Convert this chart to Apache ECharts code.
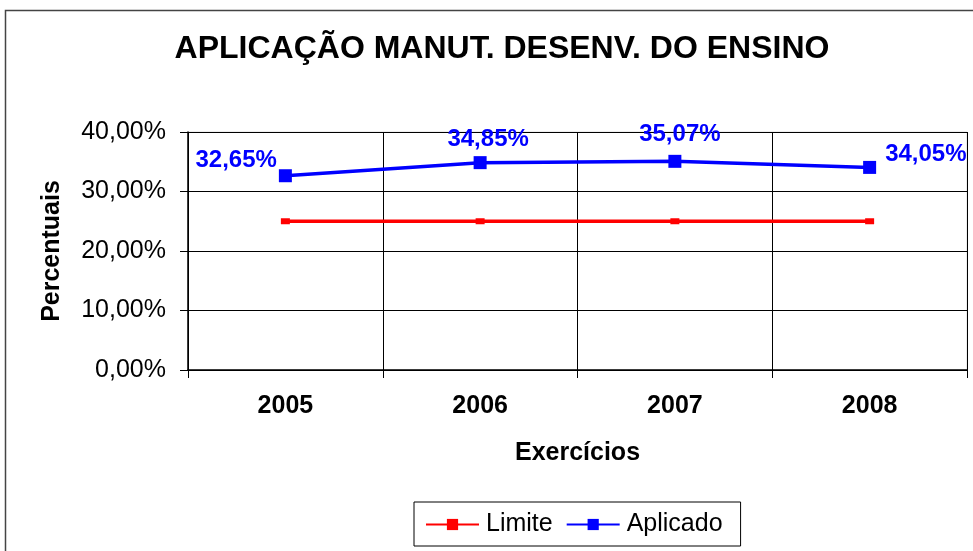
<!DOCTYPE html>
<html>
<head>
<meta charset="utf-8">
<script src="https://cdn.jsdelivr.net/npm/echarts@6/dist/echarts.min.js"></script>
<style>
  html, body { margin: 0; padding: 0; background: #fff; }
  #chart { width: 973px; height: 551px; }
</style>
</head>
<body>
<div id="chart"></div>
<script>
// dados
const exercicios = ['2005', '2006', '2007', '2008']
const limite = [25, 25, 25, 25]
const aplicado = [32.65, 34.85, 35.07, 34.05]

const fmt = (v) => v.toFixed(2).replace('.', ',') + '%'
// posição dos rótulos de cada ponto
const labelPos = ['left', 'top', 'top', 'right']
const labelOffset = [[3, -15], [8, 0], [5, -3], [4, -13]]

const chart = echarts.init(document.getElementById('chart'), null, { renderer: 'canvas' })
const font = 'Liberation Sans, Arial, sans-serif'

const option = {
  backgroundColor: '#fff',
  animation: false,
  title: {
    text: 'APLICAÇÃO MANUT. DESENV. DO ENSINO',
    left: 497,
    top: 28,
    textAlign: 'center',
    textStyle: { fontFamily: font, fontSize: 32, fontWeight: 'bold', color: '#000' }
  },
  graphic: [
    {
      type: 'rect',
      shape: { x: 5.5, y: 10.5, width: 980, height: 560 },
      style: { fill: 'none', stroke: '#444', lineWidth: 1.5 },
      z: -1
    }
  ],
  legend: {
    left: 414,
    top: 502,
    padding: [10, 18, 9, 11],
    borderColor: '#000',
    borderWidth: 1,
    itemWidth: 53,
    itemHeight: 14,
    itemGap: 13,
    textStyle: { fontFamily: font, fontSize: 25, color: '#000', padding: [0, 0, 0, 2] },
    data: ['Limite', 'Aplicado']
  },
  grid: {
    left: 188,
    right: 6,
    top: 132,
    bottom: 181,
    show: true,
    borderColor: '#ddd',
    borderWidth: 1
  },
  xAxis: {
    type: 'category',
    data: exercicios,
    boundaryGap: true,
    name: 'Exercícios',
    nameLocation: 'middle',
    nameGap: 71,
    nameTextStyle: { fontFamily: font, fontSize: 25, fontWeight: 'bold', color: '#000' },
    axisLine: { lineStyle: { color: '#000', width: 1.5 } },
    axisTick: { show: true, length: 8, lineStyle: { color: '#000' } },
    axisLabel: { fontFamily: font, fontSize: 25, fontWeight: 'bold', color: '#000', margin: 24 },
    splitLine: { show: true, lineStyle: { color: '#000', width: 1 } }
  },
  yAxis: {
    type: 'value',
    min: 0,
    max: 40,
    interval: 10,
    name: 'Percentuais',
    nameLocation: 'middle',
    nameGap: 123,
    nameTextStyle: { fontFamily: font, fontSize: 25, fontWeight: 'bold', color: '#000' },
    axisLine: { show: true, lineStyle: { color: '#000', width: 1.5 } },
    axisTick: { show: true, length: 8, lineStyle: { color: '#000' } },
    axisLabel: {
      fontFamily: font, fontSize: 25, color: '#000', margin: 22,
      formatter: (v) => fmt(v)
    },
    splitLine: { show: true, lineStyle: { color: '#000', width: 1 } }
  },
  series: [
    {
      name: 'Limite',
      type: 'line',
      data: limite,
      symbol: 'rect',
      symbolSize: [9, 6],
      lineStyle: { color: '#ff0000', width: 3.5 },
      itemStyle: { color: '#ff0000' },
      z: 2
    },
    {
      name: 'Aplicado',
      type: 'line',
      data: aplicado.map((v, i) => ({
        value: v,
        label: { position: labelPos[i], offset: labelOffset[i] }
      })),
      symbol: 'rect',
      symbolSize: 13,
      lineStyle: { color: '#0000ff', width: 3.5 },
      itemStyle: { color: '#0000ff' },
      label: {
        show: true,
        fontFamily: font,
        fontSize: 24,
        fontWeight: 'bold',
        color: '#0000ff',
        distance: 5,
        formatter: (p) => fmt(p.value)
      },
      z: 3
    }
  ]
}

chart.setOption(option)
</script>
</body>
</html>
